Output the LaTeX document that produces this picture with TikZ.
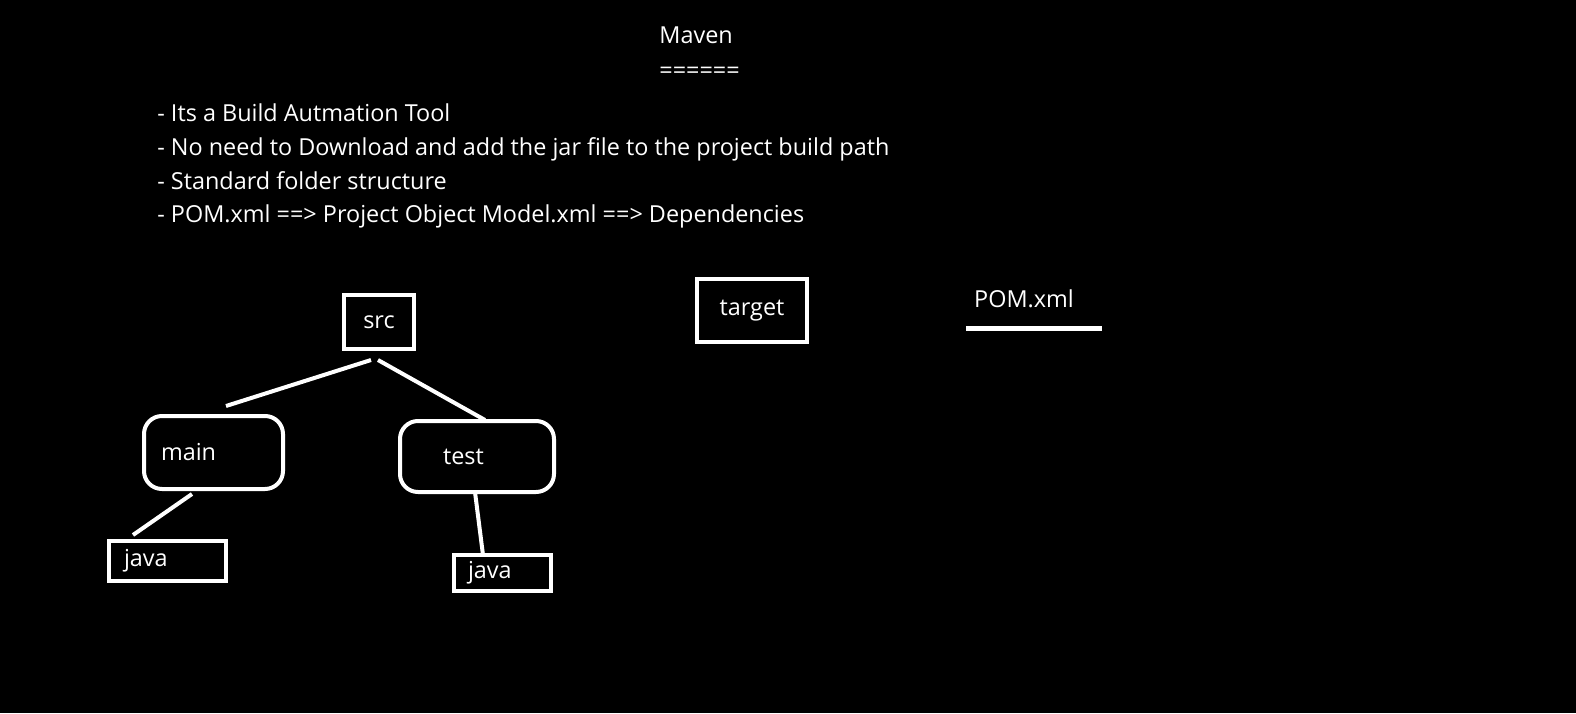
\documentclass[tikz,border=0pt]{standalone}
\usepackage{fontspec}
\setmainfont{Open Sans}
\usetikzlibrary{positioning}

\begin{document}
\begin{tikzpicture}[x=0.5pt, y=-0.5pt, node distance=0pt,
		every node/.style={text=white, font=\fontsize{11.7}{14}\selectfont},
		line/.style={draw=white, line width=2pt},
		bullet/.style={inner sep=0pt, text height=12pt, text depth=4.5pt, anchor=north west},
		folder/.style={line, rectangle, inner sep=0pt},
		subfolder/.style={line, rectangle, rounded corners=9pt, inner ysep=0pt, align=left}]
		\fill[black] (0,0) rectangle (1576,713);
		
		\node[anchor=base west, inner sep=0pt]        (maven)  at (659,43)  {Maven};
		\node[anchor=base west, inner sep=0pt]        (rule)   at (659,78)  {======};
		
		\node[bullet]                                 (l1)     at (157,97)  {- Its a Build Autmation Tool};
		\node[bullet, below=of l1.south west, anchor=north west] (l2) {- No need to Download and add the jar file to the project build path};
		\node[bullet, below=of l2.south west, anchor=north west] (l3) {- Standard folder structure};
		\node[bullet, below=of l3.south west, anchor=north west] (l4) {- POM.xml ==> Project Object Model.xml ==> Dependencies};
		
		\node[folder, minimum width=35pt, minimum height=27pt]     (src)    at (379,322)   {src};
		\node[folder, minimum width=55pt, minimum height=31.5pt]   (target) at (752,310.5) {target};
		\node[inner sep=0pt]                                       (pom)    at (1024,299)  {POM.xml};
		\coordinate (pomleft)  at (966,328);
		\coordinate (pomright) at (1102,328);
		
		\node[subfolder, text width=52.5pt, inner xsep=8.5pt, minimum height=36.5pt]  (main)  at (213.5,452.5) {main};
		\node[subfolder, text width=34pt, inner xsep=21.5pt, minimum height=35.5pt]   (test)  at (477,456.5)   {test};
		\node[folder, align=left, text width=43.5pt, inner xsep=7.5pt, minimum height=20pt] (mainjava) at (167.5,561) {java};
		\node[folder, align=left, text width=34.5pt, inner xsep=7pt, minimum height=18pt]   (testjava) at (502.5,573) {java};
		
		\draw[line] ([shift={(-8,9)}]src.south)  -- ([shift={(12.5,-8)}]main.north);
		\draw[line] ([shift={(-1,9)}]src.south)  -- ([shift={(8,1)}]test.north);
		\draw[line] ([shift={(-21.5,3)}]main.south) -- ([shift={(-34.5,-4)}]mainjava.north);
		\draw[line] ([shift={(-2,-2)}]test.south) -- ([shift={(-19.5,2)}]testjava.north);
		\draw[line, line width=2.5pt] (pomleft) -- (pomright);
	\end{tikzpicture}
\end{document}
